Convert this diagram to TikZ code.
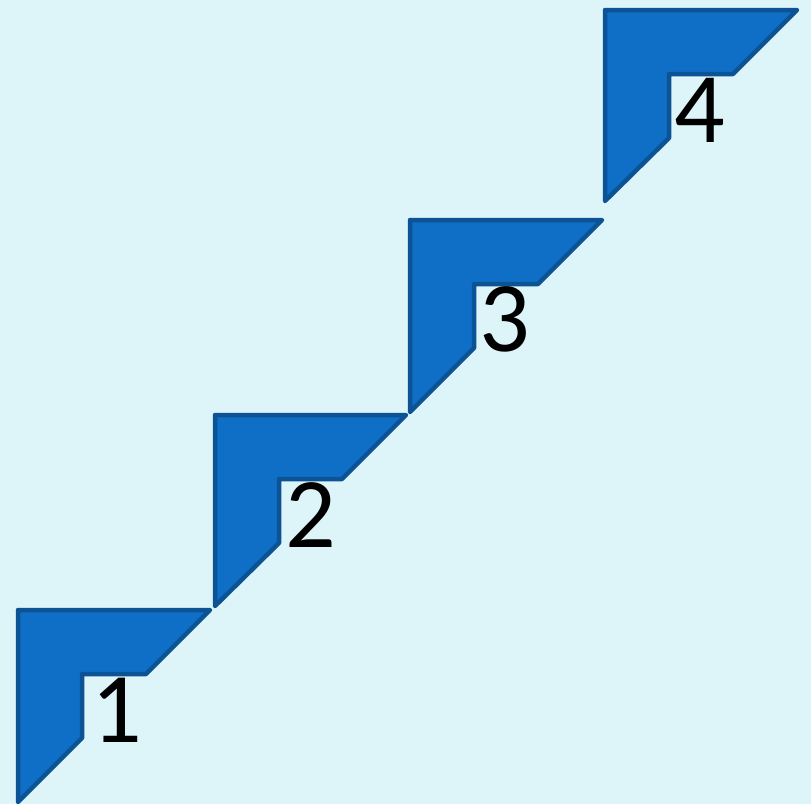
\documentclass[tikz,border=0pt]{standalone}
\usepackage{fontspec}
\setmainfont{Carlito}
\usepackage{tikz}
\usetikzlibrary{positioning,calc}
\definecolor{stairfill}{HTML}{0F6FC6}
\definecolor{stairline}{HTML}{0B5394}
\definecolor{stairbg}{HTML}{DDF5F9}

\begin{document}
\begin{tikzpicture}[x=1pt, y=-1pt,
  %% ── Styles ───────────────────────────────────────────────────────────────
  %% stair : one L-shaped step, side 192 px, notch at one third (64 px)
  stair/.style={draw=stairline, fill=stairfill, line width=4.5pt,
                line join=round},
  steplabel/.style={font=\fontsize{100}{104}\selectfont, text=black,
                    inner sep=0pt}
]

%% ── Background (fixes the 811 x 804 frame) ──────────────────────────────────
\fill[stairbg] (0,0) rectangle (811,804);
\useasboundingbox (0,0) rectangle (811,804);

%% ── Step 1  (top-left corner at 18, 610) ─────────────────────────────────────
\draw[stair] (18,610) -- (210,610) -- (146,674) -- (82,674)
  -- (82,738) -- (18,802) -- cycle;
\node[steplabel] (s1) at (117,710) {1};

%% ── Step 2  (top-left corner at 215, 415) ────────────────────────────────────
\draw[stair] (215,415) -- (406,415) -- (342,479) -- (279,479)
  -- (279,543) -- (215,606) -- cycle;
\node[steplabel] (s2) at (311,515) {2};

%% ── Step 3  (top-left corner at 410, 220) ────────────────────────────────────
\draw[stair] (410,220) -- (602,220) -- (538,284) -- (474,284)
  -- (474,348) -- (410,412) -- cycle;
\node[steplabel] (s3) at (505,319) {3};

%% ── Step 4  (top-left corner at 605, 10) ─────────────────────────────────────
\draw[stair] (605,10) -- (797,10) -- (733,74) -- (669,74)
  -- (669,138) -- (605,201) -- cycle;
\node[steplabel] (s4) at (700,110) {4};

\end{tikzpicture}
\end{document}
